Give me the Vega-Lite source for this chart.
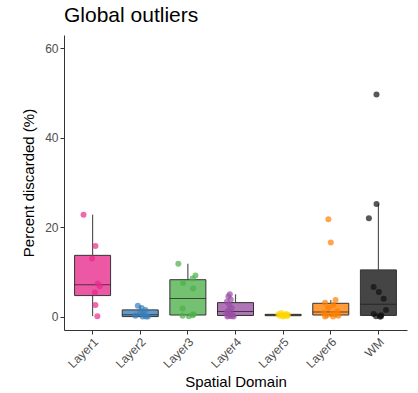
{
  "$schema": "https://vega.github.io/schema/vega-lite/v6.json",
  "autosize": {"type": "none"},
  "width": 343,
  "height": 295,
  "padding": {"left": 64, "top": 35, "right": 11, "bottom": 63},
  "background": "white",
  "title": {"text": "Global outliers", "anchor": "start", "frame": "group", "fontSize": 21, "fontWeight": "normal", "font": "Liberation Sans", "color": "#000000", "offset": 9},
  "config": {
    "view": {"stroke": null},
    "font": "Liberation Sans",
    "axis": {"grid": false, "domainColor": "#333333", "tickColor": "#333333", "tickSize": 4, "labelColor": "#4d4d4d", "labelFontSize": 12, "titleFontSize": 15, "titleFontWeight": "normal", "titleColor": "#000000", "labelFont": "Liberation Sans", "titleFont": "Liberation Sans"}
  },
  "data": {"values": [
    {"domain": "Layer1", "value": 22.8, "jitter": -0.19},
    {"domain": "Layer1", "value": 15.8, "jitter": 0.06},
    {"domain": "Layer1", "value": 13.0, "jitter": -0.01},
    {"domain": "Layer1", "value": 7.4, "jitter": 0.11},
    {"domain": "Layer1", "value": 6.8, "jitter": 0.15},
    {"domain": "Layer1", "value": 5.4, "jitter": 0.05},
    {"domain": "Layer1", "value": 2.6, "jitter": 0.06},
    {"domain": "Layer1", "value": 0.1, "jitter": 0.1},
    {"domain": "Layer2", "value": 2.4, "jitter": -0.05},
    {"domain": "Layer2", "value": 1.9, "jitter": 0.03},
    {"domain": "Layer2", "value": 1.5, "jitter": 0.11},
    {"domain": "Layer2", "value": 0.9, "jitter": 0.0},
    {"domain": "Layer2", "value": 0.4, "jitter": 0.08},
    {"domain": "Layer2", "value": 0.2, "jitter": -0.1},
    {"domain": "Layer2", "value": 0.0, "jitter": 0.16},
    {"domain": "Layer2", "value": 0.0, "jitter": 0.05},
    {"domain": "Layer2", "value": 0.0, "jitter": 0.12},
    {"domain": "Layer3", "value": 11.8, "jitter": -0.2},
    {"domain": "Layer3", "value": 9.2, "jitter": 0.16},
    {"domain": "Layer3", "value": 8.5, "jitter": 0.1},
    {"domain": "Layer3", "value": 7.5, "jitter": -0.1},
    {"domain": "Layer3", "value": 6.3, "jitter": 0.11},
    {"domain": "Layer3", "value": 1.8, "jitter": -0.11},
    {"domain": "Layer3", "value": 0.5, "jitter": 0.12},
    {"domain": "Layer3", "value": 0.3, "jitter": 0.1},
    {"domain": "Layer3", "value": 0.2, "jitter": -0.11},
    {"domain": "Layer3", "value": 0.1, "jitter": 0.02},
    {"domain": "Layer4", "value": 5.0, "jitter": -0.12},
    {"domain": "Layer4", "value": 4.5, "jitter": -0.15},
    {"domain": "Layer4", "value": 3.8, "jitter": -0.1},
    {"domain": "Layer4", "value": 3.3, "jitter": -0.18},
    {"domain": "Layer4", "value": 2.6, "jitter": -0.13},
    {"domain": "Layer4", "value": 1.9, "jitter": -0.08},
    {"domain": "Layer4", "value": 1.3, "jitter": -0.16},
    {"domain": "Layer4", "value": 1.0, "jitter": -0.11},
    {"domain": "Layer4", "value": 0.7, "jitter": -0.19},
    {"domain": "Layer4", "value": 0.4, "jitter": -0.06},
    {"domain": "Layer4", "value": 0.2, "jitter": -0.14},
    {"domain": "Layer4", "value": 0.1, "jitter": -0.09},
    {"domain": "Layer4", "value": 0.0, "jitter": -0.17},
    {"domain": "Layer4", "value": 0.0, "jitter": -0.04},
    {"domain": "Layer5", "value": 0.8, "jitter": -0.04},
    {"domain": "Layer5", "value": 0.6, "jitter": 0.06},
    {"domain": "Layer5", "value": 0.5, "jitter": -0.1},
    {"domain": "Layer5", "value": 0.4, "jitter": 0.1},
    {"domain": "Layer5", "value": 0.35, "jitter": -0.02},
    {"domain": "Layer5", "value": 0.3, "jitter": 0.03},
    {"domain": "Layer5", "value": 0.2, "jitter": -0.07},
    {"domain": "Layer5", "value": 0.1, "jitter": 0.08},
    {"domain": "Layer5", "value": 0.0, "jitter": 0.0},
    {"domain": "Layer6", "value": 21.8, "jitter": -0.05},
    {"domain": "Layer6", "value": 16.6, "jitter": 0.0},
    {"domain": "Layer6", "value": 3.7, "jitter": 0.1},
    {"domain": "Layer6", "value": 3.1, "jitter": -0.12},
    {"domain": "Layer6", "value": 2.6, "jitter": 0.05},
    {"domain": "Layer6", "value": 2.0, "jitter": -0.05},
    {"domain": "Layer6", "value": 1.2, "jitter": 0.14},
    {"domain": "Layer6", "value": 0.8, "jitter": -0.15},
    {"domain": "Layer6", "value": 0.6, "jitter": 0.02},
    {"domain": "Layer6", "value": 0.5, "jitter": 0.1},
    {"domain": "Layer6", "value": 0.3, "jitter": -0.08},
    {"domain": "Layer6", "value": 0.2, "jitter": 0.16},
    {"domain": "Layer6", "value": 0.0, "jitter": -0.12},
    {"domain": "Layer6", "value": 0.0, "jitter": 0.05},
    {"domain": "WM", "value": 49.7, "jitter": -0.04},
    {"domain": "WM", "value": 25.2, "jitter": -0.04},
    {"domain": "WM", "value": 22.0, "jitter": -0.2},
    {"domain": "WM", "value": 6.6, "jitter": -0.1},
    {"domain": "WM", "value": 5.5, "jitter": 0.01},
    {"domain": "WM", "value": 4.0, "jitter": 0.11},
    {"domain": "WM", "value": 1.5, "jitter": 0.16},
    {"domain": "WM", "value": 0.6, "jitter": -0.1},
    {"domain": "WM", "value": 0.3, "jitter": 0.06},
    {"domain": "WM", "value": 0.1, "jitter": -0.05},
    {"domain": "WM", "value": 0.0, "jitter": 0.03},
    {"domain": "WM", "value": 0.0, "jitter": 0.05}
  ]},
  "encoding": {
    "x": {"field": "domain", "type": "nominal", "sort": ["Layer1", "Layer2", "Layer3", "Layer4", "Layer5", "Layer6", "WM"],
      "scale": {"type": "band", "paddingInner": 0, "paddingOuter": 0.1},
      "axis": {"title": "Spatial Domain", "labelAngle": -45, "labelAlign": "right", "labelBaseline": "top", "titlePadding": 5}},
    "y": {"field": "value", "type": "quantitative", "scale": {"domain": [-3, 63], "nice": false, "zero": false},
      "axis": {"title": "Percent discarded (%)", "values": [0, 20, 40, 60], "titlePadding": 8}},
    "color": {"field": "domain", "type": "nominal", "legend": null,
      "scale": {"domain": ["Layer1", "Layer2", "Layer3", "Layer4", "Layer5", "Layer6", "WM"],
        "range": ["#E7298A", "#377EB8", "#4DAF4A", "#984EA3", "#FFD700", "#FF7F00", "#111111"]}}
  },
  "layer": [
    {"mark": {"type": "boxplot", "size": 36, "extent": 1.5, "outliers": false,
      "box": {"stroke": "#333333", "strokeWidth": 1, "fillOpacity": 0.78},
      "median": {"color": "#1a1a1a", "strokeWidth": 2},
      "rule": {"color": "#555555", "strokeWidth": 1.2}}},
    {"mark": {"type": "circle", "size": 36, "opacity": 0.7},
      "encoding": {"xOffset": {"field": "jitter", "type": "quantitative", "scale": {"domain": [-0.5, 0.5]}}}}
  ]
}
